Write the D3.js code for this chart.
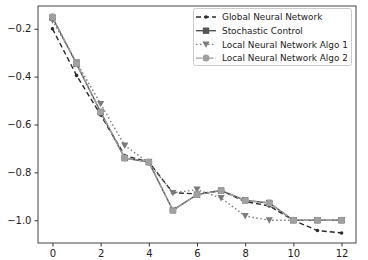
<!DOCTYPE html>
<html><head><meta charset="utf-8">
<script src="https://cdn.jsdelivr.net/npm/d3@7/dist/d3.min.js"></script>
<style>body{margin:0;background:#fff}svg{display:block}text{font-family:"DejaVu Sans",sans-serif}</style>
</head><body><svg id="c" width="368" height="260"></svg>
<script>
const steps = [0,1,2,3,4,5,6,7,8,9,10,11,12];
const globalNN = [-0.20,-0.395,-0.56,-0.73,-0.757,-0.885,-0.89,-0.876,-0.922,-0.94,-1.0,-1.043,-1.053];
const stochastic = [-0.153,-0.347,-0.548,-0.74,-0.757,-0.958,-0.893,-0.876,-0.917,-0.928,-1.0,-1.0,-1.0];
const algo1 = [-0.165,-0.34,-0.514,-0.688,-0.76,-0.886,-0.872,-0.907,-0.982,-1.0,-1.0,-1.0,-1.0];
const algo2 = [-0.15,-0.345,-0.548,-0.74,-0.757,-0.958,-0.893,-0.876,-0.917,-0.928,-1.0,-1.0,-1.0];
const seriesNames = ["Global Neural Network","Stochastic Control","Local Neural Network Algo 1","Local Neural Network Algo 2"];
const xTicks = [0,2,4,6,8,10,12];
const yTicks = [-0.2,-0.4,-0.6,-0.8,-1.0];

const svg = d3.select("#c");
const L=38, R=356, T=6, B=243;
const x = d3.scaleLinear().domain([-0.6,12.6]).range([L,R]);
const y = d3.scaleLinear().domain([-1.095,-0.105]).range([B,T]);

const styles = [
  {data:globalNN, color:"#2b2b2b", dash:"5,3", w:1.4, marker:"dot"},
  {data:stochastic, color:"#555555", dash:null, w:1.4, marker:"square"},
  {data:algo1, color:"#7a7a7a", dash:"1.5,2.5", w:1.4, marker:"tri"},
  {data:algo2, color:"#a0a0a0", dash:"6,2,1.5,2", w:1.4, marker:"circle"}
];

function drawMarker(g, type, cx, cy, color){
  if(type==="dot") g.append("circle").attr("cx",cx).attr("cy",cy).attr("r",1.8).attr("fill",color);
  else if(type==="square") g.append("rect").attr("x",cx-3.2).attr("y",cy-3.2).attr("width",6.4).attr("height",6.4).attr("fill",color);
  else if(type==="tri") g.append("path").attr("d",`M${cx-3.6},${cy-3}L${cx+3.6},${cy-3}L${cx},${cy+3.4}Z`).attr("fill",color);
  else g.append("circle").attr("cx",cx).attr("cy",cy).attr("r",3.5).attr("fill",color);
}

const line = d3.line().x((d,i)=>x(steps[i])).y(d=>y(d));
styles.forEach(s=>{
  const g = svg.append("g");
  g.append("path").attr("d",line(s.data)).attr("fill","none").attr("stroke",s.color)
    .attr("stroke-width",s.w).attr("stroke-dasharray",s.dash);
  s.data.forEach((v,i)=>drawMarker(g,s.marker,x(steps[i]),y(v),s.color));
});

// axes
const xa = svg.append("g").attr("transform",`translate(0,${B})`)
  .call(d3.axisBottom(x).tickValues(xTicks).tickSize(3.5).tickPadding(3).tickFormat(d3.format("d")));
const ya = svg.append("g").attr("transform",`translate(${L},0)`)
  .call(d3.axisLeft(y).tickValues(yTicks).tickSize(3.5).tickPadding(3).tickFormat(d=>d3.format(".1f")(d).replace("-","\u2212")));
[xa,ya].forEach(a=>{a.select(".domain").remove();a.selectAll("line").attr("stroke","#333");a.selectAll("text").attr("font-size",10).attr("fill","#222").attr("font-family","DejaVu Sans");});
svg.append("rect").attr("x",L).attr("y",T).attr("width",R-L).attr("height",B-T).attr("fill","none").attr("stroke","#444").attr("stroke-width",1);

// legend
const lg = svg.append("g");
lg.append("rect").attr("x",193.5).attr("y",8.5).attr("width",158).attr("height",57).attr("rx",2)
  .attr("fill","#fff").attr("fill-opacity",0.8).attr("stroke","#ccc");
seriesNames.forEach((n,i)=>{
  const yy = 17 + i*13.7;
  const s = styles[i];
  lg.append("line").attr("x1",196).attr("x2",216).attr("y1",yy).attr("y2",yy)
    .attr("stroke",s.color).attr("stroke-width",s.w).attr("stroke-dasharray",s.dash);
  drawMarker(lg,s.marker,206,yy,s.color);
  lg.append("text").attr("x",222).attr("y",yy+3.3).attr("font-size",8.9).attr("fill","#222").text(n);
});
</script></body></html>
